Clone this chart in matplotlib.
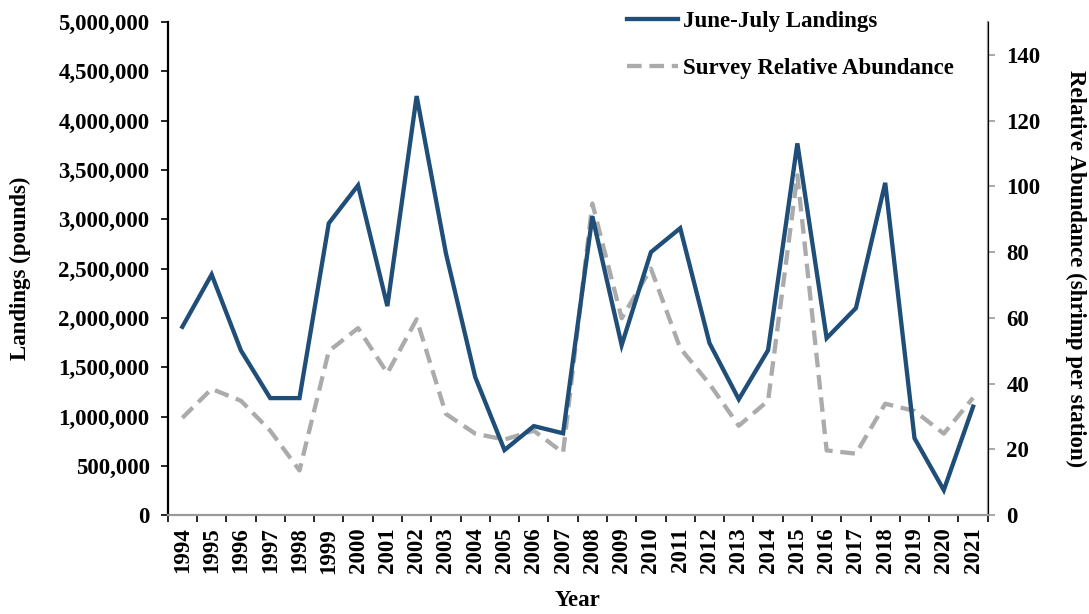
import matplotlib.pyplot as plt
from matplotlib.ticker import FuncFormatter

years = list(range(1994, 2022))
landings = [1910000, 2440000, 1670000, 1187000, 1187000, 2960000, 3345000, 2120000,
            4250000, 2655000, 1400000, 660000, 903000, 830000, 3030000, 1724000,
            2667000, 2910000, 1744000, 1175000, 1673000, 3770000, 1795000, 2100000,
            3370000, 780000, 254000, 1100000]
abundance = [29.6, 38.4, 34.8, 25.7, 13.6, 49.9, 56.9, 43.2, 59.6, 30.8, 24.8, 23.0,
             25.7, 19.0, 94.8, 59.9, 75.0, 50.8, 39.9, 27.2, 34.8, 103.4, 19.7, 18.7,
             33.9, 31.7, 24.8, 35.7]

plt.rcParams['font.family'] = ['Liberation Serif', 'DejaVu Serif']
plt.rcParams['font.weight'] = 'bold'
fs = 16.5

fig = plt.figure(figsize=(10.89, 6.14), dpi=100)
ax = fig.add_axes([0.154, 0.161, 0.753, 0.803])
ax2 = ax.twinx()

x = range(len(years))
l1, = ax.plot(x, landings, color='#1F4E79', lw=3.1, solid_joinstyle='miter', zorder=3)
l2, = ax2.plot(x, abundance, color='#ABABAB', lw=3.1, dashes=(3.4, 1.8), zorder=2)
ax.set_zorder(ax2.get_zorder() + 1)
ax.patch.set_visible(False)

ax.set_xlim(-0.5, len(years) - 0.5)
ax.set_ylim(0, 5000000)
ax.set_yticks(range(0, 5000001, 500000))
ax.yaxis.set_major_formatter(FuncFormatter(lambda v, p: f'{int(v):,}'))
ax2.set_ylim(0, 150)
ax2.set_yticks(range(0, 141, 20))

# category ticks at boundaries, labels centered
ax.set_xticks([i - 0.5 for i in range(len(years) + 1)])
ax.set_xticklabels([])
ax.set_xticks(list(x), minor=True)
ax.set_xticklabels([str(y) for y in years], minor=True, rotation=90, fontsize=fs, fontweight='bold')
ax.tick_params(axis='x', which='minor', length=0, pad=9)
ax.tick_params(axis='x', which='major', length=5, width=1.2, direction='out')

ax.tick_params(axis='y', labelsize=fs, length=5, width=1.2, pad=8)
ax2.tick_params(axis='y', labelsize=fs, length=5, width=1.2, color='#999999', pad=8.5)

for lab in ax.get_yticklabels() + ax2.get_yticklabels():
    lab.set_fontweight('bold')

ax.spines['top'].set_visible(False)
ax2.spines['top'].set_visible(False)
ax.spines['left'].set_linewidth(1.6)
ax.spines['bottom'].set_color('#999999')
ax.spines['bottom'].set_linewidth(1.6)
ax2.spines['right'].set_color('#999999')
ax2.spines['right'].set_linewidth(1.6)
ax2.spines['left'].set_visible(False)
ax2.spines['bottom'].set_visible(False)

ax.set_ylabel('Landings (pounds)', fontsize=fs, fontweight='bold')
ax.yaxis.set_label_coords(-0.167, 0.5)
ax.set_xlabel('Year', fontsize=fs, fontweight='bold')
ax.xaxis.set_label_coords(0.5, -0.152)
ax2.set_ylabel('Relative Abundance (shrimp per station)', fontsize=fs, fontweight='bold',
               rotation=270, va='bottom')
ax2.yaxis.set_label_coords(1.094, 0.5)

fig.legend([l1, l2], ['June-July Landings', 'Survey Relative Abundance'],
           loc='upper left', bbox_to_anchor=(0.557, 1.015), frameon=False,
           prop={'weight': 'bold', 'size': fs}, handlelength=2.2,
           handletextpad=0.25, labelspacing=1.1)

fig.savefig('out.png', dpi=100)
